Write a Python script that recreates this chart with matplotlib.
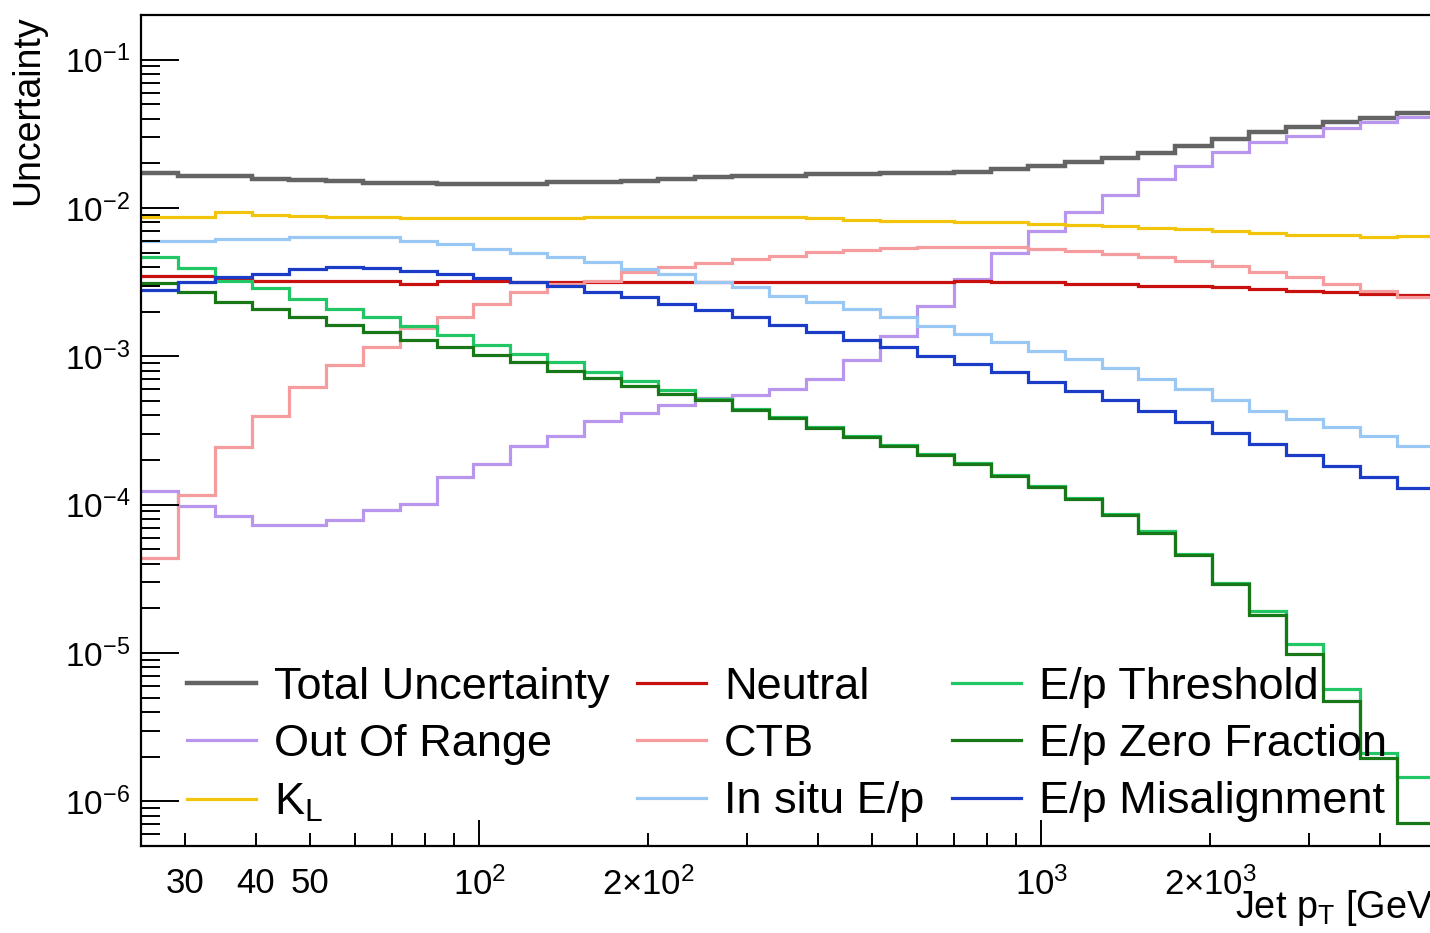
import numpy as np
import matplotlib
matplotlib.use("Agg")
import matplotlib.pyplot as plt
from matplotlib.lines import Line2D
from matplotlib.ticker import FixedLocator, FixedFormatter, LogLocator, NullFormatter

plt.rcParams['font.family'] = ['Liberation Sans', 'DejaVu Sans']
plt.rcParams['mathtext.fontset'] = 'custom'
plt.rcParams['mathtext.rm'] = 'Liberation Sans'
plt.rcParams['mathtext.it'] = 'Liberation Sans:italic'
plt.rcParams['mathtext.bf'] = 'Liberation Sans:bold'

# jet pT binning [GeV], 35 log bins
pt_edges = [25.0, 29.09, 33.84, 39.37, 45.81, 53.29, 62.00, 72.14, 83.93, 97.64,
             113.6, 132.2, 153.8, 178.9, 208.1, 242.2, 281.7, 327.8, 381.4, 443.7,
             516.2, 600.6, 698.7, 812.9, 945.8, 1100.4, 1280.2, 1489.4, 1732.8, 2016.0,
             2345.5, 2728.9, 3174.9, 3693.8, 4297.5, 5000.0]

total = [0.0172, 0.0164, 0.0164, 0.0157, 0.0154, 0.0152, 0.0147, 0.0147, 0.0145, 0.0145,
         0.0145, 0.0150, 0.0150, 0.0152, 0.0157, 0.0162, 0.0164, 0.0164, 0.0170, 0.0170,
         0.0172, 0.0172, 0.0175, 0.0183, 0.0192, 0.0204, 0.0217, 0.0235, 0.0262, 0.0292,
         0.0325, 0.0352, 0.0380, 0.0404, 0.0437]
out_of_range = [1.24e-4, 9.78e-5, 8.38e-5, 7.28e-5, 7.28e-5, 7.88e-5, 9.20e-5, 1.01e-4, 1.54e-4, 1.88e-4,
                2.48e-4, 2.90e-4, 3.66e-4, 4.15e-4, 4.70e-4, 5.23e-4, 5.48e-4, 6.02e-4, 7.03e-4, 9.44e-4,
                1.37e-3, 2.18e-3, 3.32e-3, 4.97e-3, 6.99e-3, 9.40e-3, 0.0122, 0.0157, 0.0192, 0.0239,
                0.0279, 0.0306, 0.0346, 0.0380, 0.0411]
k_l = [0.00870, 0.00870, 0.00940, 0.00897, 0.00883, 0.00870, 0.00870, 0.00857, 0.00857, 0.00857,
       0.00857, 0.00857, 0.00870, 0.00870, 0.00870, 0.00870, 0.00870, 0.00870, 0.00857, 0.00830,
       0.00817, 0.00817, 0.00805, 0.00805, 0.00780, 0.00768, 0.00756, 0.00733, 0.00722, 0.00699,
       0.00678, 0.00658, 0.00658, 0.00638, 0.00648]
neutral = [0.00348, 0.00348, 0.00332, 0.00322, 0.00322, 0.00322, 0.00322, 0.00307, 0.00322, 0.00322,
           0.00317, 0.00317, 0.00317, 0.00317, 0.00317, 0.00317, 0.00317, 0.00317, 0.00317, 0.00317,
           0.00317, 0.00317, 0.00322, 0.00317, 0.00317, 0.00307, 0.00307, 0.00298, 0.00298, 0.00293,
           0.00284, 0.00275, 0.00270, 0.00263, 0.00259]
ctb = [4.36e-5, 1.16e-4, 2.45e-4, 3.96e-4, 6.21e-4, 8.73e-4, 1.155e-3, 1.55e-3, 1.84e-3, 2.25e-3,
       2.70e-3, 3.07e-3, 3.22e-3, 3.70e-3, 4.00e-3, 4.23e-3, 4.53e-3, 4.76e-3, 5.05e-3, 5.21e-3,
       5.38e-3, 5.46e-3, 5.46e-3, 5.46e-3, 5.29e-3, 5.14e-3, 4.90e-3, 4.67e-3, 4.40e-3, 4.06e-3,
       3.70e-3, 3.43e-3, 3.07e-3, 2.75e-3, 2.51e-3]
in_situ = [0.00599, 0.00599, 0.00618, 0.00618, 0.00638, 0.00638, 0.00638, 0.00599, 0.00572, 0.00529,
           0.00497, 0.00467, 0.00432, 0.00388, 0.00359, 0.00317, 0.00293, 0.00255, 0.00232, 0.00208,
           0.00184, 0.00160, 0.00141, 0.00125, 0.00109, 9.59e-4, 8.34e-4, 7.03e-4, 6.02e-4, 5.07e-4,
           4.26e-4, 3.78e-4, 3.34e-4, 2.90e-4, 2.48e-4]
threshold = [4.67e-3, 3.94e-3, 3.22e-3, 2.89e-3, 2.43e-3, 2.08e-3, 1.84e-3, 1.60e-3, 1.39e-3, 1.19e-3,
             1.04e-3, 9.16e-4, 7.84e-4, 6.82e-4, 5.93e-4, 5.15e-4, 4.41e-4, 3.90e-4, 3.34e-4, 2.90e-4,
             2.52e-4, 2.19e-4, 1.91e-4, 1.58e-4, 1.33e-4, 1.11e-4, 8.64e-5, 6.64e-5, 4.64e-5, 2.96e-5,
             1.92e-5, 1.15e-5, 5.71e-6, 2.11e-6, 1.45e-6]
zero_fraction = [3.13e-3, 2.70e-3, 2.32e-3, 2.08e-3, 1.84e-3, 1.63e-3, 1.46e-3, 1.29e-3, 1.155e-3, 1.02e-3,
                 9.16e-4, 7.96e-4, 7.14e-4, 6.30e-4, 5.57e-4, 5.07e-4, 4.34e-4, 3.84e-4, 3.28e-4, 2.86e-4,
                 2.48e-4, 2.16e-4, 1.88e-4, 1.56e-4, 1.31e-4, 1.09e-4, 8.51e-5, 6.44e-5, 4.57e-5, 2.90e-5,
                 1.80e-5, 9.83e-6, 4.74e-6, 1.96e-6, 7.13e-7]
misalignment = [2.80e-3, 3.17e-3, 3.43e-3, 3.59e-3, 3.88e-3, 4.00e-3, 3.94e-3, 3.76e-3, 3.59e-3, 3.38e-3,
                3.17e-3, 2.98e-3, 2.70e-3, 2.51e-3, 2.25e-3, 2.05e-3, 1.84e-3, 1.63e-3, 1.46e-3, 1.29e-3,
                1.155e-3, 1.00e-3, 8.87e-4, 7.84e-4, 6.71e-4, 5.84e-4, 5.07e-4, 4.26e-4, 3.61e-4, 3.04e-4,
                2.56e-4, 2.16e-4, 1.82e-4, 1.54e-4, 1.29e-4]

# (legend text, values, colour, line width)
curves = [
    ("Total Uncertainty", total, "#646464", 3.2),
    ("Out Of Range", out_of_range, "#b996ee", 2.3),
    (r"K$_{\mathrm{L}}$", k_l, "#f2c40c", 2.3),
    ("Neutral", neutral, "#c8100f", 2.3),
    ("CTB", ctb, "#f49c9e", 2.3),
    ("In situ E/p", in_situ, "#99c8f4", 2.3),
    ("E/p Threshold", threshold, "#21c765", 2.3),
    ("E/p Zero Fraction", zero_fraction, "#187818", 2.3),
    ("E/p Misalignment", misalignment, "#1b3cc6", 2.3),
]

fig = plt.figure(figsize=(14.3, 9.33), dpi=100)
ax = fig.add_axes([141 / 1430, 87 / 933, 1293 / 1430, 831 / 933])

for label, vals, col, lw in curves:
    ax.stairs(vals, pt_edges, baseline=None, color=col, lw=lw)

ax.set_xscale('log')
ax.set_yscale('log')
ax.set_xlim(25, 5000)
ax.set_ylim(5e-7, 0.2)

# x axis: ROOT style labels on a few minor ticks
ax.xaxis.set_major_locator(FixedLocator([100, 1000]))
ax.xaxis.set_major_formatter(FixedFormatter([r'$10^{2}$', r'$10^{3}$']))
xminor = [30, 40, 50, 60, 70, 80, 90, 200, 300, 400, 500, 600, 700, 800, 900, 2000, 3000, 4000]
xminor_lab = ['30', '40', '50', '', '', '', '', r'$2{\times}10^{2}$', '', '', '', '', '', '', '',
              r'$2{\times}10^{3}$', '', '']
ax.xaxis.set_minor_locator(FixedLocator(xminor))
ax.xaxis.set_minor_formatter(FixedFormatter(xminor_lab))

ax.yaxis.set_major_locator(LogLocator(base=10, numticks=20))
ax.yaxis.set_minor_locator(LogLocator(base=10, subs=np.arange(2, 10), numticks=20))
ax.yaxis.set_minor_formatter(NullFormatter())

ax.tick_params(which='both', direction='in', top=False, right=False, width=1.4, colors='black')
ax.tick_params(axis='x', which='major', length=19, pad=15, labelsize=25)
ax.tick_params(axis='x', which='minor', length=9.5, pad=15, labelsize=25)
ax.tick_params(axis='y', which='major', length=27, pad=8, labelsize=24)
ax.tick_params(axis='y', which='minor', length=14)

for sp in ax.spines.values():
    sp.set_linewidth(1.6)

ax.set_ylabel("Uncertainty", fontsize=27, loc='top')
ax.yaxis.set_label_coords(-0.073, 1.0)
ax.set_xlabel(r"Jet p$_{\mathrm{T}}$ [GeV]", fontsize=27.3, loc='right')
ax.xaxis.set_label_coords(1.006, -0.05)

handles = [Line2D([], [], color=c, lw=lw) for _, _, c, lw in curves]
labels = [c[0] for c in curves]
ax.legend(handles, labels, ncol=3, loc='upper left', bbox_to_anchor=(187 / 1430, 1 - 667 / 933),
          bbox_transform=fig.transFigure, frameon=False, fontsize=32.5,
          handlelength=1.52, handletextpad=0.4, columnspacing=0.62, labelspacing=0.36,
          borderpad=0, borderaxespad=0)

fig.savefig("out.png", dpi=100)
